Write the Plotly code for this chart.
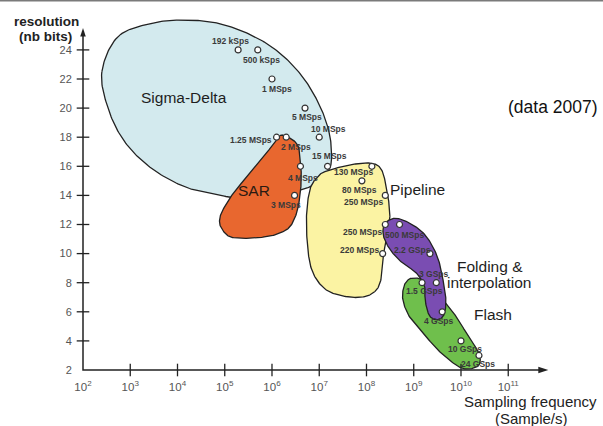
import numpy as np
import plotly.graph_objects as go

# ---- ADC survey points: sampling rate (Sample/s) and resolution (bits) ----
sd_rates = [192e3, 500e3, 1e6, 5e6, 10e6, 15e6]
sd_bits = [24, 24, 22, 20, 18, 16]
sd_labels = ["192 kSps", "500 kSps", "1 MSps", "5 MSps", "10 MSps", "15 MSps"]

sar_rates = [1.25e6, 2e6, 4e6, 3e6]
sar_bits = [18, 18, 16, 14]
sar_labels = ["1.25 MSps", "2 MSps", "4 MSps", "3 MSps"]

pipe_rates = [130e6, 80e6, 250e6, 250e6, 220e6]
pipe_bits = [16, 15, 14, 12, 10]
pipe_labels = ["130 MSps", "80 MSps", "250 MSps", "250 MSps", "220 MSps"]

fold_rates = [500e6, 2.2e9, 3e9, 4e9]
fold_bits = [12, 10, 8, 6]
fold_labels = ["500 MSps", "2.2 GSps", "3 GSps", "4 GSps"]

flash_rates = [1.5e9, 10e9, 24e9]
flash_bits = [8, 4, 3]
flash_labels = ["1.5 GSps", "10 GSps", "24 GSps"]

# axis ticks
x_exponents = [2, 3, 4, 5, 6, 7, 8, 9, 10, 11]
y_ticks = [2, 4, 6, 8, 10, 12, 14, 16, 18, 20, 22, 24]

# ---- label offsets in pixels (right, up) relative to each point ----
sd_offsets = [(-8, 9), (4, -10), (5, -10), (2, -9), (9, 8), (2, 10)]
sar_offsets = [(-26, -3), (10, -10), (3, -12), (-9, -10)]
pipe_offsets = [(-18, -6), (-2, -9), (-22, -7), (-23, -7), (-23, 4)]
fold_offsets = [(5, -10), (-17, 4), (-2, 9), (-3, -9)]
flash_offsets = [(2, -8), (4, -8), (-1, -9)]

# ---- region outlines (log10 of rate, bits) ----
sigma_outline = [(2.40, 22.50), (2.74, 24.91), (3.45, 25.83), (4.15, 26.05), (4.86, 25.83),
                 (5.56, 25.02), (6.13, 23.88), (6.62, 22.27), (6.97, 20.44), (7.19, 18.61),
                 (7.26, 17.0), (7.22, 15.86), (6.96, 14.85), (6.37, 14.16), (5.52, 13.75),
                 (4.86, 14.03), (4.15, 14.60), (3.45, 15.86), (2.88, 17.69), (2.53, 19.99)]
sar_outline = [(6.23, 18.15), (6.52, 17.58), (6.59, 16.66), (6.62, 15.29), (6.59, 13.91),
               (6.52, 12.77), (6.38, 11.85), (6.16, 11.40), (5.88, 11.16), (5.46, 11.05),
               (5.11, 11.16), (4.93, 11.74), (4.89, 12.31), (4.96, 13.0), (5.18, 14.14),
               (5.53, 15.52), (5.88, 16.89), (6.09, 17.81)]
pipe_outline = [(7.12, 15.63), (7.64, 16.09), (8.10, 16.21), (8.32, 15.75), (8.43, 14.37),
                (8.49, 13.0), (8.48, 12.08), (8.39, 10.71), (8.35, 9.56), (8.32, 8.41),
                (8.21, 7.50), (7.96, 7.04), (7.58, 7.04), (7.15, 7.50), (6.87, 8.65),
                (6.76, 10.25), (6.73, 12.54), (6.80, 14.37), (6.94, 15.18)]
fold_outline = [(8.39, 12.08), (8.63, 12.43), (8.98, 11.97), (9.27, 11.16), (9.50, 9.79),
                (9.62, 8.19), (9.68, 6.81), (9.64, 5.80), (9.50, 5.45), (9.33, 5.75),
                (9.24, 6.81), (9.23, 7.73), (9.06, 8.65), (8.77, 9.33), (8.56, 10.02),
                (8.42, 10.71), (8.35, 11.40)]
flash_outline = [(8.95, 8.30), (9.09, 8.30), (9.23, 8.07), (9.62, 6.81), (9.90, 5.66),
                 (10.16, 4.29), (10.38, 3.15), (10.38, 2.34), (10.15, 2.07), (9.93, 2.27),
                 (9.55, 3.26), (9.20, 4.52), (8.91, 5.66), (8.77, 6.81), (8.79, 7.73),
                 (8.88, 8.19)]

FAMILY = "Liberation Sans, Arial, sans-serif"
OUTLINE = "#222222"
AXIS = "#222222"
LABEL_FONT = dict(family=FAMILY, size=8.5, color="#3a3a3a", weight="bold")
BIG_FONT = dict(family=FAMILY, size=15.5, color="#1e1e1e")


def closed_curve(pts, n=20):
    """Closed Catmull-Rom curve through the outline points; returns (rate, bits)."""
    p = np.asarray(pts, float)
    m = len(p)
    t = np.linspace(0, 1, n, endpoint=False)[:, None]
    segs = []
    for i in range(m):
        p0, p1, p2, p3 = p[(i - 1) % m], p[i], p[(i + 1) % m], p[(i + 2) % m]
        segs.append(0.5 * (2 * p1 + (-p0 + p2) * t + (2 * p0 - 5 * p1 + 4 * p2 - p3) * t ** 2
                           + (-p0 + 3 * p1 - 3 * p2 + p3) * t ** 3))
    c = np.vstack(segs + [segs[0][:1]])
    return 10 ** c[:, 0], c[:, 1]


fig = go.Figure()

# coloured regions, back to front
for outline, fill in [(sigma_outline, "#d3eaee"), (sar_outline, "#e8672f"),
                      (pipe_outline, "#fbf3a3"), (flash_outline, "#6fbf4c"),
                      (fold_outline, "#7a4db2")]:
    xs, ys = closed_curve(outline)
    fig.add_trace(go.Scatter(x=xs, y=ys, mode="lines", fill="toself", fillcolor=fill,
                             line=dict(color=OUTLINE, width=1.3), hoverinfo="skip"))

groups = [(sd_rates, sd_bits, sd_labels, sd_offsets),
          (sar_rates, sar_bits, sar_labels, sar_offsets),
          (pipe_rates, pipe_bits, pipe_labels, pipe_offsets),
          (fold_rates, fold_bits, fold_labels, fold_offsets),
          (flash_rates, flash_bits, flash_labels, flash_offsets)]

annotations = []
for rates, bits, labels, offsets in groups:
    fig.add_trace(go.Scatter(x=rates, y=bits, mode="markers", cliponaxis=False,
                             marker=dict(symbol="circle", size=6, color="white",
                                         line=dict(color="#333333", width=1.2))))
    for r, b, lab, (dx, dy) in zip(rates, bits, labels, offsets):
        annotations.append(dict(x=np.log10(r), y=b, xref="x", yref="y", text=lab,
                                xanchor="center", yanchor="middle",
                                showarrow=False, xshift=dx, yshift=dy, font=LABEL_FONT))

# axis frame: the two axes meet at (1e2, 2) and end in arrow heads
x_tip, y_tip = 11.848, 25.505
fig.add_trace(go.Scatter(x=[1e2, 1e2, 10 ** (x_tip - 0.08)], y=[y_tip - 0.25, 2, 2],
                         mode="lines", cliponaxis=False, hoverinfo="skip",
                         line=dict(color=AXIS, width=1.5)))
fig.add_trace(go.Scatter(x=[10 ** x_tip], y=[2], mode="markers", cliponaxis=False, hoverinfo="skip",
                         marker=dict(symbol="arrow", size=10.5, angle=90, color=AXIS,
                                     line=dict(width=0))))
fig.add_trace(go.Scatter(x=[1e2], y=[y_tip], mode="markers", cliponaxis=False, hoverinfo="skip",
                         marker=dict(symbol="arrow", size=9, angle=0, color=AXIS,
                                     line=dict(width=0))))

# crossing tick marks on both axes
fig.add_trace(go.Scatter(x=[10 ** k for k in x_exponents[1:]], y=[2] * (len(x_exponents) - 1),
                         mode="markers", cliponaxis=False, hoverinfo="skip",
                         marker=dict(symbol="line-ns", size=9, line=dict(color=AXIS, width=1.3))))
fig.add_trace(go.Scatter(x=[10 ** x_exponents[0]] * (len(y_ticks) - 1), y=y_ticks[1:],
                         mode="markers", cliponaxis=False, hoverinfo="skip",
                         marker=dict(symbol="line-ew", size=9, line=dict(color=AXIS, width=1.3))))

# architecture names
for text, lx, by in [("Sigma-Delta", 4.13, 20.76), ("SAR", 5.62, 14.37), ("Pipeline", 9.08, 14.42),
                     ("Folding &", 10.61, 9.10), ("interpolation", 10.60, 8.03), ("Flash", 10.67, 5.83)]:
    annotations.append(dict(x=lx, y=by, xref="x", yref="y", text=text, showarrow=False,
                            xanchor="center", yanchor="middle",
                            font=dict(BIG_FONT, color="#2a1a12") if text == "SAR" else BIG_FONT))

# axis titles and note
title_font = dict(family=FAMILY, size=13.5, color="#222", weight="bold")
xt_font = dict(family=FAMILY, size=15, color="#222")
annotations += [
    dict(x=-0.0734, y=0.9545, xref="paper", yref="paper", text="resolution", showarrow=False,
         xanchor="center", yanchor="middle", font=title_font),
    dict(x=-0.0745, y=0.9145, xref="paper", yref="paper", text="(nb bits)", showarrow=False,
         xanchor="center", yanchor="middle", font=title_font),
    dict(x=0.9574, y=-0.0809, xref="paper", yref="paper", text="Sampling frequency", showarrow=False,
         xanchor="center", yanchor="middle", font=xt_font),
    dict(x=0.9589, y=-0.1262, xref="paper", yref="paper", text="(Sample/s)", showarrow=False,
         xanchor="center", yanchor="middle", font=xt_font),
    dict(x=1.1043, y=0.7221, xref="paper", yref="paper", text="(data 2007)", showarrow=False,
         xanchor="right", yanchor="middle", font=dict(family=FAMILY, size=17.5, color="#111")),
]

fig.update_layout(
    width=603, height=426,
    margin=dict(l=81, r=52, t=5, b=54, pad=0),
    paper_bgcolor="white", plot_bgcolor="white",
    showlegend=False,
    annotations=annotations,
    shapes=[dict(type="line", xref="paper", yref="paper", x0=-0.18, x1=1.12,
                 y0=1.0116, y1=1.0116, line=dict(color="#7a7a7a", width=1.6))],
    xaxis=dict(type="log", range=[1.9577, 11.905], showgrid=False, zeroline=False, showline=False,
               tickmode="array", tickvals=[10 ** k for k in x_exponents],
               ticktext=[f"10<sup>{k}</sup>" for k in x_exponents],
               ticks="outside", ticklen=4, tickcolor="rgba(0,0,0,0)", ticklabelstandoff=0,
               tickfont=dict(family=FAMILY, size=11.5, color="#555")),
    yaxis=dict(range=[1.8625, 27.086], showgrid=False, zeroline=False, showline=False,
               tickmode="array", tickvals=y_ticks,
               ticks="outside", ticklen=4, tickcolor="rgba(0,0,0,0)", ticklabelstandoff=2,
               tickfont=dict(family=FAMILY, size=11, color="#555")),
)

fig.write_html("out.html")
